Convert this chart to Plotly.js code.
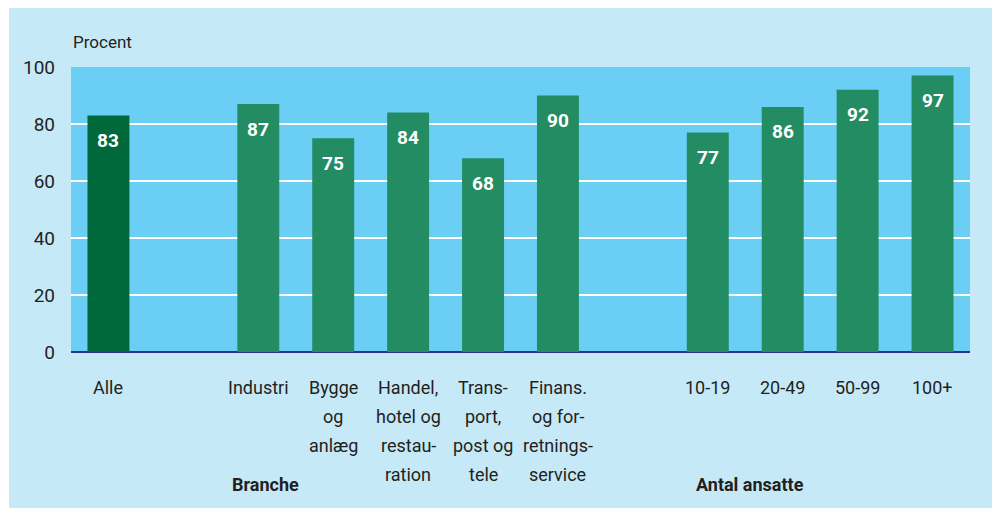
<!DOCTYPE html>
<html>
<head>
<meta charset="utf-8">
<script src="https://cdn.plot.ly/plotly-3.0.1.min.js"></script>
<style>
  html, body { margin: 0; padding: 0; background: #ffffff; }
  #chart { position: absolute; left: 9px; top: 8px; width: 983px; height: 500px; }
</style>
</head>
<body>
<div id="chart"></div>
<script>
// ---- data ----
const categories = ["Alle", "Industri", "Bygge og anlæg", "Handel, hotel og restauration",
  "Transport, post og tele", "Finans. og forretningsservice", "10-19", "20-49", "50-99", "100+"];
const tickLines = [
  ["Alle"],
  ["Industri"],
  ["Bygge", "og", "anlæg"],
  ["Handel,", "hotel og", "restau-", "ration"],
  ["Trans-", "port,", "post og", "tele"],
  ["Finans.", "og for-", "retnings-", "service"],
  ["10-19"], ["20-49"], ["50-99"], ["100+"]
];
const groups = ["", "Branche", "Branche", "Branche", "Branche", "Branche",
  "Antal ansatte", "Antal ansatte", "Antal ansatte", "Antal ansatte"];
const values = [83, 87, 75, 84, 68, 90, 77, 86, 92, 97];
const yTicks = [0, 20, 40, 60, 80, 100];
const yUnit = "Procent";

// ---- derived positions (leave an empty slot between groups) ----
const xpos = [];
let p = 0;
for (let i = 0; i < categories.length; i++) {
  if (i > 0) p += (groups[i] !== groups[i - 1]) ? 2 : 1;
  xpos.push(p);
}

const textColor = "#231f20";
const font = "Roboto, 'Open Sans', sans-serif";
const barColors = categories.map((c, i) => i === 0 ? "#00693b" : "#248c63");

const annotations = [];
// value labels
values.forEach((v, i) => {
  annotations.push({
    x: xpos[i], y: v, xref: "x", yref: "y", text: "<b>" + v + "</b>",
    showarrow: false, xanchor: "center", yanchor: "middle", yshift: -25,
    font: { family: font, size: 19, color: "#ffffff" }
  });
});
// category labels, one annotation per line
tickLines.forEach((lines, i) => {
  lines.forEach((ln, j) => {
    annotations.push({
      x: xpos[i], y: 0, xref: "x", yref: "y", text: ln, showarrow: false,
      xanchor: "center", yanchor: "middle", yshift: -35 - j * 29.3,
      font: { family: font, size: 18, color: textColor }
    });
  });
});
// group labels (placed under the group, offset as in the original)
const groupLabelX = { "Branche": 265, "Antal ansatte": 750 }; // page pixels
Object.keys(groupLabelX).forEach(g => {
  annotations.push({
    x: (groupLabelX[g] - 71) / 899, y: 0, xref: "paper", yref: "y", text: "<b>" + g + "</b>",
    showarrow: false, xanchor: "center", yanchor: "middle", yshift: -132,
    font: { family: font, size: 18, color: textColor }
  });
});
// unit label
annotations.push({
  x: 0, y: 1, xref: "paper", yref: "paper", text: yUnit, showarrow: false,
  xanchor: "left", yanchor: "middle", yshift: 25,
  font: { family: font, size: 17, color: textColor }
});

const trace = {
  type: "bar", x: xpos, y: values, width: 0.56,
  marker: { color: barColors, line: { width: 0 } },
  hoverinfo: "skip", text: categories, textposition: "none"
};

const layout = {
  width: 983, height: 500,
  margin: { l: 62, r: 22, t: 59, b: 156 },
  paper_bgcolor: "#c6e9f8",
  plot_bgcolor: "#6bcef4",
  showlegend: false,
  xaxis: {
    range: [-0.5, xpos[xpos.length - 1] + 0.5],
    showticklabels: false, showgrid: false, zeroline: false, ticks: "",
    showline: false, fixedrange: true
  },
  yaxis: {
    range: [0, 100], tickvals: yTicks, ticktext: yTicks.map(String),
    showgrid: true, gridcolor: "#ffffff", gridwidth: 2,
    zeroline: true, zerolinecolor: "#2e3192", zerolinewidth: 2.5,
    ticks: "", ticklabelstandoff: 15,
    tickfont: { family: font, size: 19, color: textColor },
    showline: false, fixedrange: true
  },
  annotations: annotations
};

Plotly.newPlot("chart", [trace], layout, { staticPlot: true, displayModeBar: false });
</script>
</body>
</html>
